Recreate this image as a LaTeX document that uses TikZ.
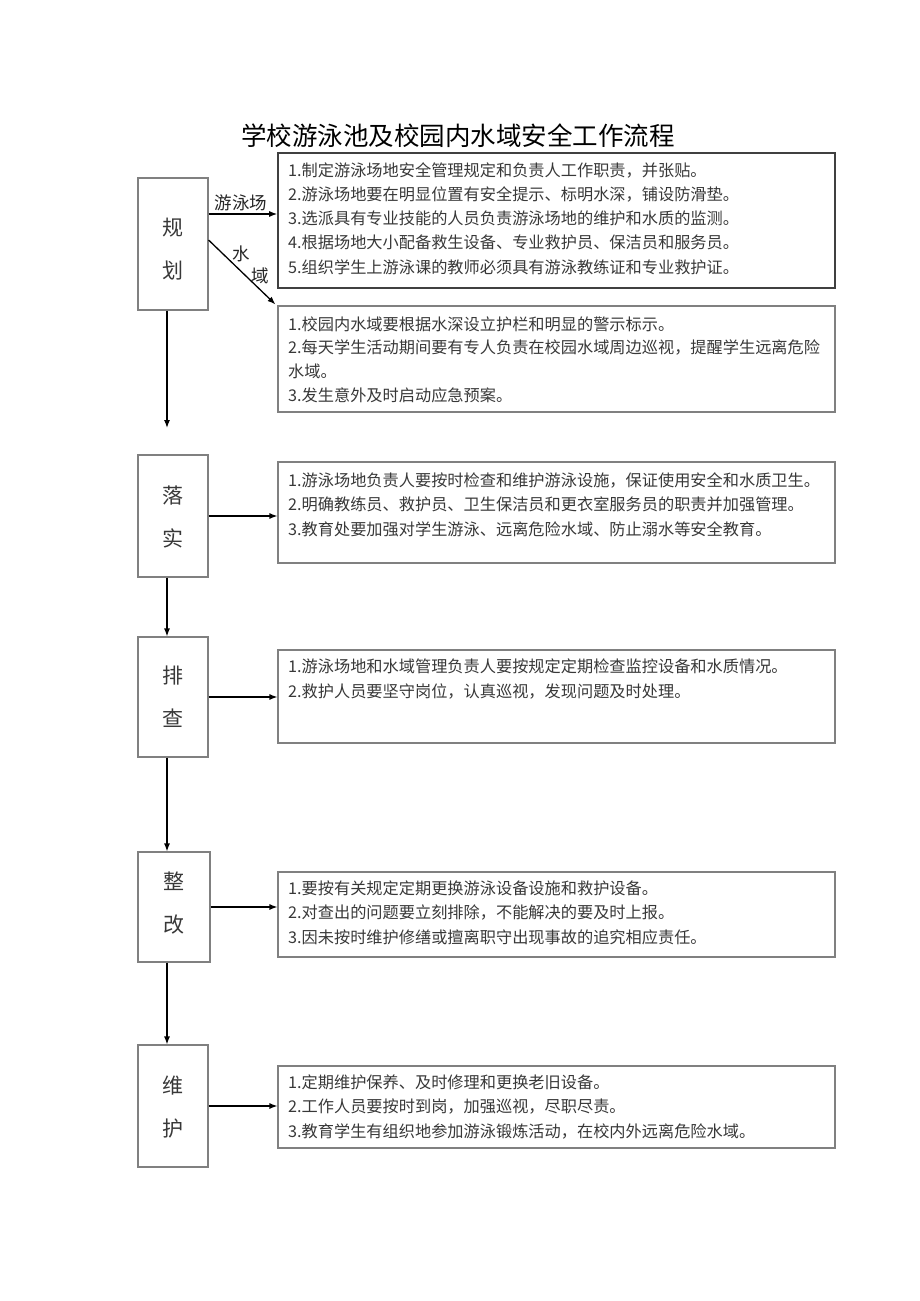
\documentclass[tikz,border=0pt]{standalone}
\usepackage{fontspec}
\newfontfamily\cjk{Noto Sans CJK SC}
\usetikzlibrary{arrows.meta}
\definecolor{txtc}{gray}{0.22}
\definecolor{bordc}{gray}{0.5}
\begin{document}
\begin{tikzpicture}[x=1pt,y=-1pt,
  lbox/.style={draw=bordc,line width=1.1pt,rectangle,inner sep=0pt,minimum width=70pt},
  tbox/.style={draw=bordc,line width=1.1pt,rectangle,inner sep=0pt,minimum width=557pt},
  lchar/.style={font=\cjk\fontsize{21}{43}\selectfont,align=center,text=txtc,inner sep=0pt},
  line/.style={font=\cjk\fontsize{16.2}{20}\selectfont,text=txtc,anchor=west,inner sep=0pt,text height=13pt,text depth=3pt},
  side/.style={font=\cjk\fontsize{17.5}{20}\selectfont,text=black!85,inner sep=0pt},
  arr/.style={draw=black,line width=1.3pt,-{Latex[length=8pt,width=6pt]}}
]
\useasboundingbox (0,0) rectangle (920,1301);

\node[font=\cjk\fontsize{25.5}{30}\selectfont,inner sep=0pt] (title) at (458,136) {学校游泳池及校园内水域安全工作流程};

% left column
\node[lbox,minimum height=132pt] (gh) at (173,244) {};
\node[lchar] (ghT) at (173,249.5) {规\\划};
\node[lbox,minimum height=122pt] (ls) at (173,516) {};
\node[lchar] (lsT) at (173,516.5) {落\\实};
\node[lbox,minimum height=120pt] (pc) at (173,697) {};
\node[lchar] (pcT) at (173,697) {排\\查};
\node[lbox,minimum width=72pt,minimum height=110pt] (zg) at (174,907) {};
\node[lchar] (zgT) at (174,903) {整\\改};
\node[lbox,minimum height=122pt] (wh) at (173,1106) {};
\node[lchar] (whT) at (173,1107) {维\\护};

% text boxes
\node[tbox,draw=black!75,line width=1.6pt,minimum height=135pt] (B1) at (556.5,220.5) {};
\node[tbox,minimum height=106pt] (B2) at (556.5,359) {};
\node[tbox,minimum height=101pt] (B3) at (556.5,512.5) {};
\node[tbox,minimum height=93pt] (B4) at (556.5,696.5) {};
\node[tbox,minimum height=85pt] (B5) at (556.5,914.5) {};
\node[tbox,minimum height=82pt] (B6) at (556.5,1107) {};

% box 1 lines
\node[line] (b1a) at (288,171) {1.制定游泳场地安全管理规定和负责人工作职责，并张贴。};
\node[line] (b1b) at (288,195.3) {2.游泳场地要在明显位置有安全提示、标明水深，铺设防滑垫。};
\node[line] (b1c) at (288,219.6) {3.选派具有专业技能的人员负责游泳场地的维护和水质的监测。};
\node[line] (b1d) at (288,243.9) {4.根据场地大小配备救生设备、专业救护员、保洁员和服务员。};
\node[line] (b1e) at (288,268.2) {5.组织学生上游泳课的教师必须具有游泳教练证和专业救护证。};
% box 2 lines
\node[line] (b2a) at (288,325) {1.校园内水域要根据水深设立护栏和明显的警示标示。};
\node[line] (b2b) at (288,348.5) {2.每天学生活动期间要有专人负责在校园水域周边巡视，提醒学生远离危险};
\node[line] (b2c) at (288,372) {水域。};
\node[line] (b2d) at (288,396) {3.发生意外及时启动应急预案。};
% box 3 lines
\node[line] (b3a) at (288,481) {1.游泳场地负责人要按时检查和维护游泳设施，保证使用安全和水质卫生。};
\node[line] (b3b) at (288,505.5) {2.明确教练员、救护员、卫生保洁员和更衣室服务员的职责并加强管理。};
\node[line] (b3c) at (288,530) {3.教育处要加强对学生游泳、远离危险水域、防止溺水等安全教育。};
% box 4 lines
\node[line] (b4a) at (288,667) {1.游泳场地和水域管理负责人要按规定定期检查监控设备和水质情况。};
\node[line] (b4b) at (288,692) {2.救护人员要坚守岗位，认真巡视，发现问题及时处理。};
% box 5 lines
\node[line] (b5a) at (288,889) {1.要按有关规定定期更换游泳设备设施和救护设备。};
\node[line] (b5b) at (288,913) {2.对查出的问题要立刻排除，不能解决的要及时上报。};
\node[line] (b5c) at (288,938) {3.因未按时维护修缮或擅离职守出现事故的追究相应责任。};
% box 6 lines
\node[line] (b6a) at (288,1083) {1.定期维护保养、及时修理和更换老旧设备。};
\node[line] (b6b) at (288,1107) {2.工作人员要按时到岗，加强巡视，尽职尽责。};
\node[line] (b6c) at (288,1132) {3.教育学生有组织地参加游泳锻炼活动，在校内外远离危险水域。};

% side labels
\node[side] (yyc) at (241,203) {游泳场};
\node[side] (shui) at (241.5,254) {水};
\node[side] (yu) at (260,276) {域};

% connectors
\draw[arr] ([yshift=30pt]gh.east) -- ([yshift=30pt]gh.east -| B1.west);
\coordinate (diagEnd) at ([xshift=-2pt,yshift=1pt]B2.north west);
\draw[arr] ([yshift=4pt]gh.east) -- (diagEnd);
\coordinate (downEnd) at (167,428);
\draw[arr] ([xshift=-6pt]gh.south) -- (downEnd);
\coordinate (pcTop) at ([xshift=-6pt]pc.north);
\coordinate (zgTop) at ([xshift=-7pt]zg.north);
\coordinate (whTop) at ([xshift=-6pt]wh.north);
\draw[arr] (ls.south -| pcTop) -- (pcTop);
\draw[arr] (pc.south -| zgTop) -- (zgTop);
\draw[arr] (zg.south -| whTop) -- (whTop);
\draw[arr] (ls.east) -- (ls.east -| B3.west);
\draw[arr] (pc.east) -- (pc.east -| B4.west);
\draw[arr] (zg.east) -- (zg.east -| B5.west);
\draw[arr] (wh.east) -- (wh.east -| B6.west);
\end{tikzpicture}
\end{document}
